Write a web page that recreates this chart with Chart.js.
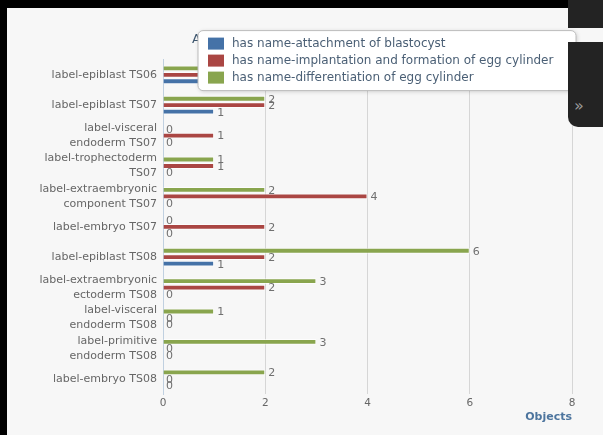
<!DOCTYPE html>
<html>
<head>
<meta charset="utf-8">
<script src="https://cdn.jsdelivr.net/npm/chart.js@4.4.0/dist/chart.umd.min.js"></script>
<style>
    html, body { margin: 0; padding: 0; background: #f7f7f7; overflow: hidden; }
    #page { position: relative; width: 603px; height: 435px; }
    #wrap { position: absolute; left: 7px; top: 8px; width: 596px; height: 427px; }
    .edge { position: absolute; background: #000; }
    .side { position: absolute; background: #232323; color: #9a9a9a; font: 16px "DejaVu Sans", sans-serif; }
</style>
</head>
<body>
<div id="page">
    <div id="wrap"><canvas id="myChart" width="596" height="427"></canvas></div>
    <div class="edge" style="left:0;top:0;width:603px;height:8px"></div>
    <div class="edge" style="left:0;top:0;width:7px;height:435px"></div>
    <div class="side" style="left:568px;top:0;width:35px;height:28px"></div>
    <div class="side" style="left:568px;top:42px;width:35px;height:85px;border-bottom-left-radius:10px">
        <span style="position:absolute;left:6px;top:54px">&raquo;</span>
    </div>
</div>
<script>
//#region DATA
const categories = [
    "label-epiblast TS06",
    "label-epiblast TS07",
    "label-visceral endoderm TS07",
    "label-trophectoderm TS07",
    "label-extraembryonic component TS07",
    "label-embryo TS07",
    "label-epiblast TS08",
    "label-extraembryonic ectoderm TS08",
    "label-visceral endoderm TS08",
    "label-primitive endoderm TS08",
    "label-embryo TS08"
];
const seriesNames = [
    "has name-attachment of blastocyst",
    "has name-implantation and formation of egg cylinder",
    "has name-differentiation of egg cylinder"
];
// first row is hidden behind the legend in the picture, values guessed
const blastocystValues      = [1, 1, 0, 0, 0, 0, 1, 0, 0, 0, 0];
const implantationValues    = [2, 2, 1, 1, 4, 2, 2, 2, 0, 0, 0];
const differentiationValues = [2, 2, 0, 1, 2, 0, 6, 3, 1, 3, 2];
const xTicks = [0, 2, 4, 6, 8];
//#endregion DATA

// wrap long category names like highcharts does
function wrapLabel(text, maxChars) {
    const lines = [];
    let line = "";
    text.split(" ").forEach(word => {
        if (line && (line + " " + word).length > maxChars) {
            lines.push(line);
            line = word;
        } else {
            line = line ? line + " " + word : word;
        }
    });
    lines.push(line);
    return lines.length > 1 ? lines : lines[0];
}

Chart.defaults.font.family = '"DejaVu Sans", Verdana, sans-serif';

// numbers at the end of each bar
const valueLabels = {
    id: 'valueLabels',
    afterDatasetsDraw(chart) {
        const ctx = chart.ctx;
        ctx.save();
        ctx.font = '11px "DejaVu Sans"';
        ctx.fillStyle = '#707070';
        ctx.textBaseline = 'middle';
        chart.data.datasets.forEach((ds, i) => {
            chart.getDatasetMeta(i).data.forEach((bar, j) => {
                ctx.fillText(String(ds.data[j]), bar.x + 3, bar.y + 1);
            });
        });
        ctx.restore();
    }
};

// floating legend that sits on top of the plot
const floatingLegend = {
    id: 'floatingLegend',
    afterDraw(chart) {
        const ctx = chart.ctx;
        const area = chart.chartArea;
        const left = area.left + 35, top = area.top - 29;
        const width = area.right + 4 - left, height = 60;
        ctx.save();
        ctx.shadowColor = 'rgba(0,0,0,0.18)';
        ctx.shadowBlur = 4;
        ctx.shadowOffsetX = 1;
        ctx.shadowOffsetY = 1;
        ctx.fillStyle = '#ffffff';
        ctx.beginPath();
        ctx.roundRect(left, top, width, height, 5);
        ctx.fill();
        ctx.shadowColor = 'transparent';
        ctx.strokeStyle = '#bcbcbc';
        ctx.lineWidth = 1;
        ctx.stroke();
        ctx.font = '12px "DejaVu Sans"';
        ctx.textBaseline = 'middle';
        const items = chart.data.datasets.slice().reverse();
        items.forEach((ds, i) => {
            const y = top + 13 + i * 17;
            ctx.fillStyle = ds.backgroundColor;
            ctx.fillRect(left + 10, y - 6, 16, 12);
            ctx.fillStyle = '#4a5f75';
            ctx.fillText(ds.label, left + 34, y);
        });
        ctx.restore();
    }
};

new Chart(document.getElementById('myChart'), {
    type: 'bar',
    data: {
        labels: categories.map(c => wrapLabel(c, 20)),
        datasets: [
            { label: seriesNames[2], data: differentiationValues, backgroundColor: '#89A54E' },
            { label: seriesNames[1], data: implantationValues, backgroundColor: '#AA4643' },
            { label: seriesNames[0], data: blastocystValues, backgroundColor: '#4572A7' }
        ]
    },
    options: {
        indexAxis: 'y',
        responsive: false,
        animation: false,
        layout: { padding: { left: 0, right: 31, top: 0, bottom: 0 } },
        datasets: {
            bar: {
                categoryPercentage: 0.64,
                barPercentage: 0.9,
                borderColor: 'rgba(255,255,255,0.7)',
                borderWidth: 1
            }
        },
        plugins: {
            legend: { display: false },
            tooltip: { enabled: false },
            title: {
                display: true,
                text: 'Annotations by anatomy term',
                color: '#3E576F',
                font: { size: 13, weight: 'normal' },
                padding: { top: 24, bottom: 12 }
            }
        },
        scales: {
            x: {
                min: xTicks[0],
                max: xTicks[xTicks.length - 1],
                afterBuildTicks(scale) {
                    scale.ticks = xTicks.map(v => ({ value: v }));
                },
                ticks: { color: '#666', font: { size: 10.5 }, padding: 3 },
                grid: { color: '#d6d6d6', drawTicks: false },
                border: { display: false },
                title: {
                    display: true,
                    text: 'Objects',
                    align: 'end',
                    color: '#4d759e',
                    font: { size: 11, weight: 'bold' },
                    padding: { top: 2, bottom: 11 }
                },
                afterFit(scale) { scale.height = 41; }
            },
            y: {
                ticks: { color: '#666', font: { size: 11, lineHeight: 1.35 }, padding: 6, autoSkip: false },
                grid: { display: false, drawTicks: false },
                border: { color: '#C0D0E0' },
                afterFit(scale) { scale.width = 156; }
            }
        }
    },
    plugins: [valueLabels, floatingLegend]
});
</script>
</body>
</html>
